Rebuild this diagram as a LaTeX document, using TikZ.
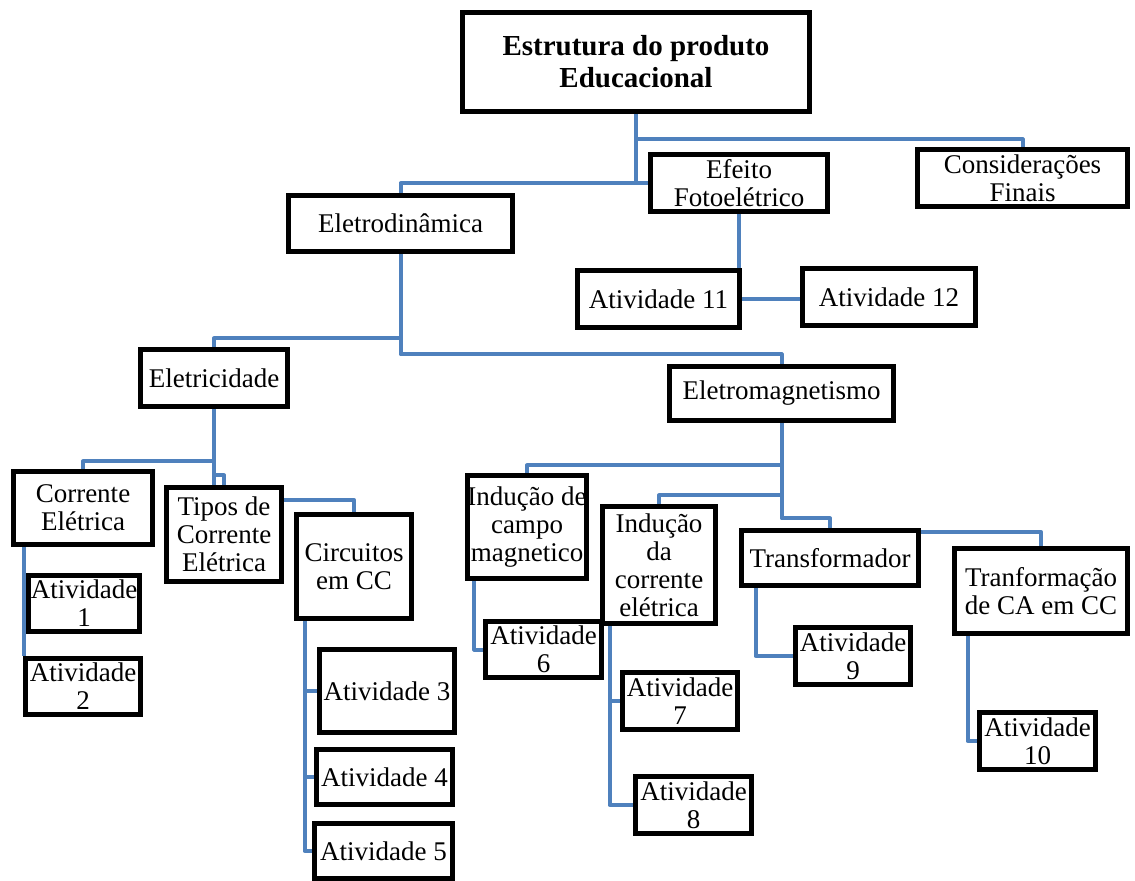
\documentclass[tikz,border=0pt]{standalone}
\usepackage{fontspec}
\setmainfont{Liberation Serif}
\usepackage{tikz}
\usetikzlibrary{positioning,backgrounds}
\definecolor{linkblue}{RGB}{79,129,189}

\begin{document}
\begin{tikzpicture}[x=0.5pt,y=-0.5pt,main node/.style={rectangle,draw,line width=2.5pt,fill=white,align=center,inner sep=0pt,font=\fontsize{13.5}{14}\selectfont},link/.style={line width=2pt,draw=linkblue,line join=round}]
    \useasboundingbox (0,0) rectangle (1135,881);

		\node[main node][minimum width=173.5pt,minimum height=49.5pt][font=\fontsize{14.5}{16}\selectfont\bfseries](1) at (636,62) {Estrutura do produto\\Educacional};
		\node[main node][minimum width=88.5pt,minimum height=28.5pt](2) at (739,183) {Efeito\\Fotoelétrico};
		\node[main node][minimum width=105pt,minimum height=28.5pt](3) at (1022.5,178) {Considerações\\Finais};
		\node[main node][minimum width=112pt,minimum height=28pt](4) at (400.5,223.5) {Eletrodinâmica};
		\node[main node][minimum width=81pt,minimum height=28.5pt](5) at (658.5,299) {Atividade 11};
		\node[main node][minimum width=86.5pt,minimum height=28.5pt](6) at (889,297) {Atividade 12};
		\node[main node][minimum width=73.5pt,minimum height=28.5pt](7) at (214,378) {Eletricidade};
		\node[main node][minimum width=112pt,minimum height=27pt](8) at (781.5,393.5) {Eletromagnetismo};
		\node[main node][minimum width=69.5pt,minimum height=36.5pt](9) at (83,508) {Corrente\\Elétrica};
		\node[main node][minimum width=57.5pt,minimum height=47pt](10) at (224,534.5) {Tipos de\\Corrente\\Elétrica};
		\node[main node][minimum width=57.5pt,minimum height=52pt](11) at (354,566.5) {Circuitos\\em CC};
		\node[main node][minimum width=55.5pt,minimum height=28pt](12) at (84,603.5) {Atividade\\1};
		\node[main node][minimum width=57.5pt,minimum height=28pt](13) at (83,686.5) {Atividade\\2};
		\node[main node][minimum width=67.5pt,minimum height=41.5pt](14) at (387,691) {Atividade 3};
		\node[main node][minimum width=68pt,minimum height=27.5pt](15) at (384.5,777) {Atividade 4};
		\node[main node][minimum width=69pt,minimum height=27.5pt](16) at (383.5,851) {Atividade 5};
		\node[main node][minimum width=57.5pt,minimum height=51.5pt](17) at (527,527) {Indução de\\campo\\magnetico};
		\node[main node][minimum width=58pt,minimum height=28pt](18) at (543.5,649.5) {Atividade\\6};
		\node[main node][minimum width=56.5pt,minimum height=58.5pt](19) at (659,565) {Indução\\da\\corrente\\elétrica};
		\node[main node][minimum width=57.5pt,minimum height=28.5pt](20) at (680,701) {Atividade\\7};
		\node[main node][minimum width=58pt,minimum height=28.5pt](21) at (693.5,805) {Atividade\\8};
		\node[main node][minimum width=88.5pt,minimum height=27.5pt](22) at (830,558) {Transformador};
		\node[main node][minimum width=57.5pt,minimum height=28.5pt](23) at (853,656) {Atividade\\9};
		\node[main node][minimum width=86.5pt,minimum height=42.5pt](24) at (1041,591) {Tranformação\\de CA em CC};
		\node[main node][minimum width=58pt,minimum height=28.5pt](25) at (1037.5,741) {Atividade\\10};

    \begin{pgfonlayer}{background}
		\draw [link] (1.south) -- ++(0,25.5) -| (3.north);
		\draw [link] (1.south) |- (2.west);
		\draw [link] (1.south) -- ++(0,69.5) -| (4.north);
		\draw [link] (2.south) -- (2.south |- 5.north);
		\draw [link] (5.east) -- (5.east -| 6.west);
		\draw [link] (4.south) -- ++(0,84.5) -| (7.north);
		\draw [link] (4.south) -- ++(0,100.5) -| (8.north);
		\draw [link] (7.south) -- ++(0,52.5) -| (9.north);
		\draw [link] (7.south) -- ++(0,66.5) -| (10.north);
		\draw [link] (7.south) -- (7.south |- 10.north);
		\draw [link] (10.30) -| (11.north);
		\draw [link] ([xshift=6.25pt]9.south west) -- ([xshift=6.25pt]9.south west |- 13.north);
		\draw [link] ([xshift=5.25pt]11.south west) |- (14.west);
		\draw [link] ([xshift=5.25pt]11.south west) |- (15.west);
		\draw [link] ([xshift=5.25pt]11.south west) |- (16.west);
		\draw [link] (8.south) -- ++(0,42.5) -| (17.north);
		\draw [link] (8.south) -- ++(0,72.5) -| (19.north);
		\draw [link] (8.south) -- ++(0,95.5) -| (22.north);
		\draw [link] ([xshift=4.75pt]17.south west) |- (18.west);
		\draw [link] ([xshift=4.75pt]19.south west) |- (20.west);
		\draw [link] ([xshift=4.75pt]19.south west) |- (21.west);
		\draw [link] (22.16) -| (24.north);
		\draw [link] ([xshift=8.25pt]22.south west) |- (23.west);
		\draw [link] ([xshift=7.75pt]24.south west) |- (25.west);
    \end{pgfonlayer}

	\end{tikzpicture}
\end{document}
